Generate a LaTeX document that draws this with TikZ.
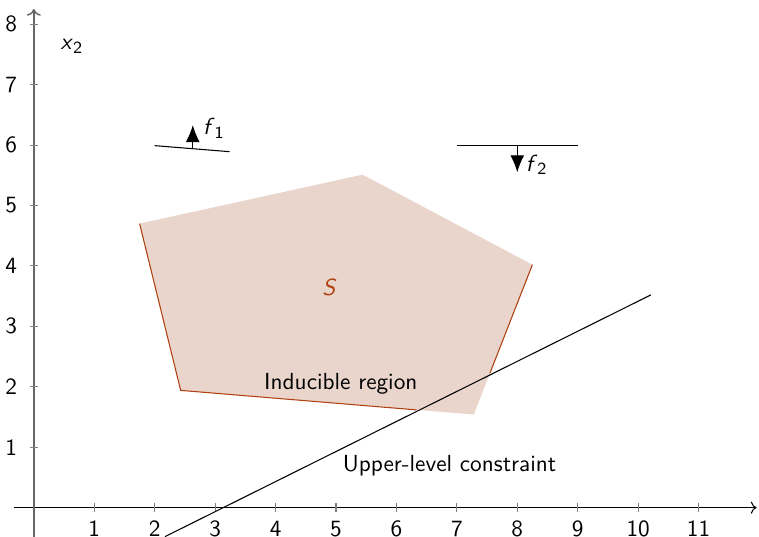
\documentclass[tikz,border=0pt,11pt]{standalone}
\usetikzlibrary{arrows.meta}
\renewcommand{\familydefault}{\sfdefault}
\definecolor{regionfill}{RGB}{233,213,204}
\definecolor{regionedge}{RGB}{176,64,16}
\newcommand{\sfvar}[2]{\textsf{\itshape #1}\textsubscript{\textsf{#2}}}
\begin{document}
\begin{tikzpicture}[line width=0.5pt, obj/.style={-{Latex[length=2.8mm,width=2.3mm]}}]
\useasboundingbox (-0.56,-0.48) rectangle (12.0,8.4);
% feasible set S
\coordinate (p1) at (1.75,4.70);
\coordinate (p2) at (5.44,5.51);
\coordinate (p3) at (8.25,4.02);
\coordinate (p4) at (7.28,1.54);
\coordinate (p5) at (2.43,1.94);
\fill[regionfill] (p1) -- (p2) -- (p3) -- (p4) -- (p5) -- cycle;
% axes
\draw[->] (-0.33,0) -- (11.96,0);
\draw[->, black!60, line width=0.7pt] (0,-0.5) -- (0,8.25);
\foreach \x in {1,...,11}
  \draw[black!50] (\x,-0.07) -- (\x,0.07) node[black, pos=0, below=0.5pt] {\x};
\foreach \y in {1,...,8}
  \draw[black!50] (-0.07,\y) -- (0.07,\y) node[black, pos=0, left=2pt] {\y};
\node (xlab) at (0.63,7.63) {\sfvar{x}{2}};
% inducible region
\coordinate (q1) at (6.335,1.617);
\coordinate (q2) at (7.547,2.224);
\draw[regionedge] (p1) -- (p5) -- (q1);
\draw[regionedge] (q2) -- (p3);
\node[text=regionedge] (s) at (4.9,3.62) {\sfvar{S}{}};
\node (ind) at (5.08,2.05) {Inducible region};
% upper-level constraint
\coordinate (c1) at (2.17,-0.48);
\coordinate (c2) at (10.21,3.52);
\draw (c1) -- (c2);
\node (ulc) at (6.88,0.69) {Upper-level constraint};
% objectives
\coordinate (a1) at (2.0,5.99);
\coordinate (a2) at (3.24,5.89);
\coordinate (a3) at (2.63,5.94);
\coordinate (a4) at (2.63,6.33);
\draw (a1) -- (a2);
\draw[obj] (a3) -- (a4);
\node (f1) at (2.98,6.28) {\sfvar{f}{1}};
\coordinate (b1) at (7.0,6.0);
\coordinate (b2) at (9.0,6.0);
\coordinate (b3) at (8.0,6.0);
\coordinate (b4) at (8.0,5.55);
\draw (b1) -- (b2);
\draw[obj] (b3) -- (b4);
\node (f2) at (8.32,5.67) {\sfvar{f}{2}};
\end{tikzpicture}
\end{document}
